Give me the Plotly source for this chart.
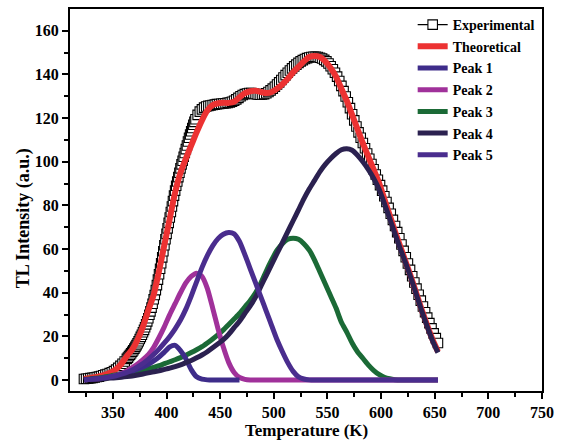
import plotly.graph_objects as go

# ---------------- data ----------------
# experimental points (denser sampling on the steep rising edge)
temp_exp = list(range(323, 364, 2)) + list(range(364, 427)) + list(range(427, 654, 2))
tl_exp = (
    # 323..363 step 2
    [0.5, 0.6, 0.7, 0.9, 1.0, 1.2, 1.4, 1.6, 1.9, 2.2, 2.5, 2.8, 3.2, 3.6, 4.1, 4.8,
     5.6, 6.5, 7.5, 8.5, 9.7]
    # 364..426 step 1
    + [10.3, 11, 11.6, 12.3, 13, 13.7, 14.4, 15.2, 16, 16.9, 17.8, 18.8, 19.8, 20.8,
       21.9, 23, 24.2, 25.5, 26.9, 28.3, 29.9, 31.5, 33.2, 35, 37, 39, 41.2, 43.5, 46,
       48.5, 51, 53.5, 56.2, 59, 61.8, 64.5, 67, 69.5, 72, 74.5, 77, 79.5, 82, 84.5,
       86.8, 89, 91, 93, 95, 97, 98.8, 100.5, 102.3, 104, 105.8, 107.5, 109.3, 111,
       112.5, 114, 115.5, 117, 118.3]
    # 427..579 step 2
    + [119.5, 121.5, 123, 124, 124.8, 125.3, 125.6, 125.8, 126, 126.2, 126.4, 126.5,
       126.6, 126.7, 126.8, 127, 127.2, 127.5, 128, 128.6, 129.3, 130, 130.6, 131,
       131.3, 131.5, 131.5, 131.3, 131, 130.8, 130.7, 130.8, 131, 131.4, 132, 132.7,
       133.5, 134.4, 135.4, 136.4, 137.5, 138.6, 139.7, 140.8, 141.8, 142.8, 143.7,
       144.5, 145.3, 146, 146.6, 147.1, 147.5, 147.8, 148, 148.1, 148.1, 148, 147.7,
       147.3, 146.7, 146, 145, 143.8, 142.4, 140.8, 139, 137, 134.8, 132.4, 129.9,
       127.3, 124.6, 121.8, 119, 116.2, 113.5]
    # 581..653 step 2
    + [111, 108.6, 106.2, 103.8, 101.4, 99, 96.6, 94.2, 91.8, 89.3, 86.8, 84.2, 81.6,
       78.9, 76.2, 73.4, 70.6, 67.8, 65, 62.1, 59.2, 56.3, 53.4, 50.5, 47.6, 44.7,
       41.9, 39.1, 36.4, 33.7, 31.1, 28.6, 26.1, 23.7, 21.4, 19.2, 17]
)

temp_fit = list(range(323, 654, 5))
tl_theory = [0.5, 0.9, 1.3, 1.8, 2.5, 3.5, 5, 7.5, 11, 14, 18.5, 24.5, 32, 39, 50, 62, 74,
             86, 95, 101.5, 107.5, 113.5, 119, 123.5, 126, 126.8, 127, 127, 127.5, 129.5,
             131.5, 132.3, 132.5, 132, 131.5, 132, 133.5, 135.5, 138, 141, 143.5, 146, 148,
             148.5, 148, 146, 143, 139, 133.5, 128, 121.5, 115, 108.5, 102.5, 96.5, 90.5,
             83, 75.5, 68, 61, 54, 47, 39.5, 32, 25, 18.5, 13]

temp_p1 = list(range(323, 469, 5))
tl_p1 = [0.2, 0.3, 0.5, 0.7, 1.0, 1.4, 1.9, 2.5, 3.2, 4.1, 5.0, 6.0, 7.2, 8.8, 10.6, 12.8,
         15.2, 15.9, 13.5, 9.8, 4.8, 1.5, 0.4, 0.1, 0, 0, 0, 0, 0, 0]

tl_p2 = [0.15, 0.25, 0.4, 0.6, 0.9, 1.4, 2.1, 3, 4.2, 5.7, 7.4, 9.4, 11.6, 15, 19.5, 24.5,
         30, 35, 40, 44.5, 47.5, 49, 47.5, 42, 33, 23.5, 15, 8, 3.5, 1.2, 0.3, 0, 0, 0, 0,
         0, 0, 0, 0, 0, 0, 0, 0, 0, 0, 0, 0, 0, 0, 0, 0, 0, 0, 0, 0, 0, 0, 0, 0, 0, 0, 0,
         0, 0, 0, 0, 0]

tl_p3 = [0.3, 0.5, 0.8, 1.1, 1.5, 1.9, 2.4, 2.9, 3.4, 3.9, 4.3, 4.7, 5.2, 5.8, 6.6, 7.5,
         8.4, 9.3, 10.3, 11.4, 12.6, 13.9, 15.3, 17, 18.8, 20.8, 23, 25.5, 28, 30.5, 33.5,
         36.5, 40, 44.5, 50, 55, 59.5, 62.5, 64.5, 65, 64.5, 62.5, 59.5, 55, 49.5, 44,
         38.5, 33, 26.5, 22, 17, 13, 10, 7, 4.5, 2.6, 1.3, 0.6, 0.2, 0, 0, 0, 0, 0, 0, 0, 0]

tl_p4 = [0.2, 0.3, 0.4, 0.55, 0.7, 0.9, 1.1, 1.35, 1.6, 1.9, 2.3, 2.8, 3.3, 3.8, 4.3, 4.9,
         5.5, 6.2, 7, 8, 9, 10.2, 11.5, 13, 14.8, 16.6, 18.5, 21, 24, 27, 30.5, 34, 38, 43,
         48, 53, 58, 63, 68, 73, 78, 83, 87.5, 91.5, 95.5, 98.8, 101.5, 103.8, 105.5, 106,
         105.3, 103, 100, 96.5, 92.5, 87.5, 81, 74, 67, 60, 53.5, 46.5, 39, 31.5, 24.5, 18,
         12.6]

tl_p5 = [0.2, 0.3, 0.5, 0.8, 1.1, 1.5, 2.0, 2.7, 3.5, 4.6, 6, 7.6, 9.5, 11.7, 14.2, 17, 20,
         23.5, 27.5, 32.5, 38.5, 45, 51.5, 57, 61.5, 64.8, 66.8, 67.6, 67, 63.5, 57.5, 51,
         44.5, 38, 31.5, 25, 18.5, 13, 8, 4, 1.5, 0.5, 0.1, 0, 0, 0, 0, 0, 0, 0, 0, 0, 0,
         0, 0, 0, 0, 0, 0, 0, 0, 0, 0, 0, 0, 0, 0]

x_ticks = [350, 400, 450, 500, 550, 600, 650, 700, 750]
y_ticks = [0, 20, 40, 60, 80, 100, 120, 140, 160]

# ---------------- styling ----------------
SERIF = "Liberation Serif"
C_RED = "#EC3232"
C_P1 = "#3E2C8A"
C_P2 = "#A0319A"
C_P3 = "#1B6A36"
C_P4 = "#2B2150"
C_P5 = "#4A2D8E"

fig = go.Figure()

fig.add_trace(go.Scatter(
    x=temp_exp, y=tl_exp, name="Experimental", mode="lines+markers",
    line=dict(color="black", width=1.2),
    marker=dict(symbol="square", size=9.5, color="white", line=dict(color="black", width=1.1)),
    legendrank=1, legendgroup="g1"))
fig.add_trace(go.Scatter(
    x=temp_fit, y=tl_theory, name="Theoretical", mode="lines",
    line=dict(color=C_RED, width=6, shape="spline", smoothing=0.6),
    legendrank=2, legendgroup="g2"))
fig.add_trace(go.Scatter(
    x=temp_fit, y=tl_p3, name="Peak 3", mode="lines",
    line=dict(color=C_P3, width=5, shape="spline", smoothing=0.6),
    legendrank=5, legendgroup="g5"))
fig.add_trace(go.Scatter(
    x=temp_fit, y=tl_p2, name="Peak 2", mode="lines",
    line=dict(color=C_P2, width=5, shape="spline", smoothing=0.6),
    legendrank=4, legendgroup="g4"))
fig.add_trace(go.Scatter(
    x=temp_p1, y=tl_p1, name="Peak 1", mode="lines",
    line=dict(color=C_P1, width=5, shape="spline", smoothing=0.6),
    legendrank=3, legendgroup="g3"))
fig.add_trace(go.Scatter(
    x=temp_fit, y=tl_p4, name="Peak 4", mode="lines",
    line=dict(color=C_P4, width=5, shape="spline", smoothing=0.6),
    legendrank=6, legendgroup="g6"))
fig.add_trace(go.Scatter(
    x=temp_fit, y=tl_p5, name="Peak 5", mode="lines",
    line=dict(color=C_P5, width=5, shape="spline", smoothing=0.6),
    legendrank=7, legendgroup="g7"))

axis_common = dict(
    showline=True, linecolor="black", linewidth=2, mirror=True,
    ticks="outside", tickcolor="black", tickwidth=1.5, ticklen=6,
    showgrid=False, zeroline=False,
    tickfont=dict(family=SERIF, size=16, color="black", weight="bold"),
)

fig.update_xaxes(range=[310, 750], tickvals=x_ticks,
                 minor=dict(tickvals=[325, 375, 425, 475, 525, 575, 625, 675, 725],
                            ticks="outside", ticklen=4, tickcolor="black", tickwidth=1.5),
                 **axis_common)
fig.update_yaxes(range=[-5, 170], tickvals=y_ticks,
                 minor=dict(tickvals=[10, 30, 50, 70, 90, 110, 130, 150],
                            ticks="outside", ticklen=4, tickcolor="black", tickwidth=1.5),
                 **axis_common)

fig.add_annotation(text="Temperature (K)", xref="paper", yref="paper", x=0.5, y=-0.104,
                   xanchor="center", yanchor="middle", showarrow=False,
                   font=dict(family=SERIF, size=17, color="black", weight="bold"))
fig.add_annotation(text="TL Intensity (a.u.)", xref="paper", yref="paper", x=-0.097, y=0.453,
                   xanchor="center", yanchor="middle", showarrow=False, textangle=-90,
                   font=dict(family=SERIF, size=18, color="black", weight="bold"))

fig.update_layout(
    width=561, height=441,
    margin=dict(l=70, r=18, t=7, b=50),
    paper_bgcolor="white", plot_bgcolor="white",
    showlegend=True,
    legend=dict(x=0.726, y=1.0, xanchor="left", yanchor="top",
                bgcolor="rgba(0,0,0,0)", borderwidth=0,
                tracegroupgap=0.5, traceorder="grouped",
                font=dict(family=SERIF, size=14, color="black", weight="bold")),
)

fig.write_html("out.html")
